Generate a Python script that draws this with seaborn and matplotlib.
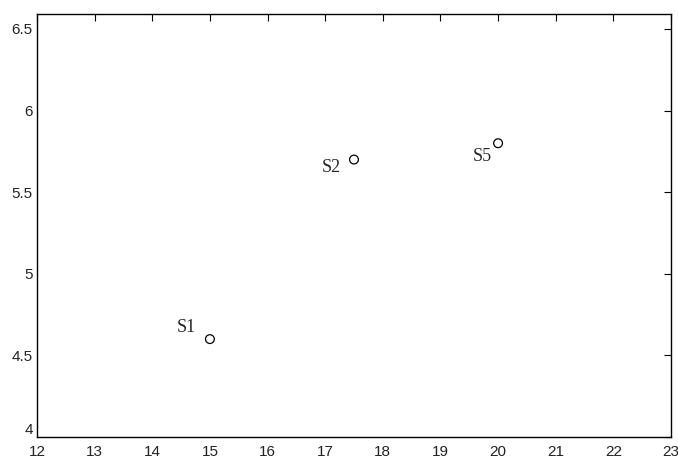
import matplotlib
matplotlib.use("Agg")
import matplotlib.pyplot as plt
import seaborn as sns
import pandas as pd

# point labels and coordinates
labels = ["S1", "S2", "S5"]
x_vals = [15, 17.5, 20]
y_vals = [4.6, 5.7, 5.8]
# label offsets (points) relative to each marker
label_dx = [-10, -9.5, -4.5]
label_dy = [8, -6, -9.5]

df = pd.DataFrame({"x": x_vals, "y": y_vals, "label": labels})

sns.set_theme(style="white")
plt.rcParams["font.family"] = ["Liberation Sans", "DejaVu Sans"]

fig = plt.figure(figsize=(6.78, 4.61), dpi=100)
ax = fig.add_axes([0.0546, 0.052, 0.935, 0.917])

sns.scatterplot(data=df, x="x", y="y", ax=ax, marker="o", s=40,
                facecolor="none", edgecolor="black", linewidth=0.9, legend=False)

for lab, x, y, dx, dy in zip(df["label"], df["x"], df["y"], label_dx, label_dy):
    ax.annotate(lab, (x, y), xytext=(dx, dy), textcoords="offset points",
                ha="right", va="center", fontsize=13, family="Liberation Serif")

ax.set_xlim(12, 23)
ax.set_ylim(4, 6.59)
ax.set_xticks(range(12, 24))
ax.set_yticks([4, 4.5, 5, 5.5, 6, 6.5])
ax.set_yticklabels(["4", "4.5", "5", "5.5", "6", "6.5"])
ax.set_xlabel("")
ax.set_ylabel("")
ax.tick_params(direction="in", length=5, width=0.8, top=True, right=True,
               labelsize=11, colors="black", labelcolor="#222222", pad=3)
ax.tick_params(axis="x", pad=6)
# the bottom y label sits a little above the corner, as in the original
ax.get_yticklabels()[0].set_va("bottom")
for sp in ax.spines.values():
    sp.set_color("black")
    sp.set_linewidth(1.0)

fig.savefig("out.png", dpi=100)
